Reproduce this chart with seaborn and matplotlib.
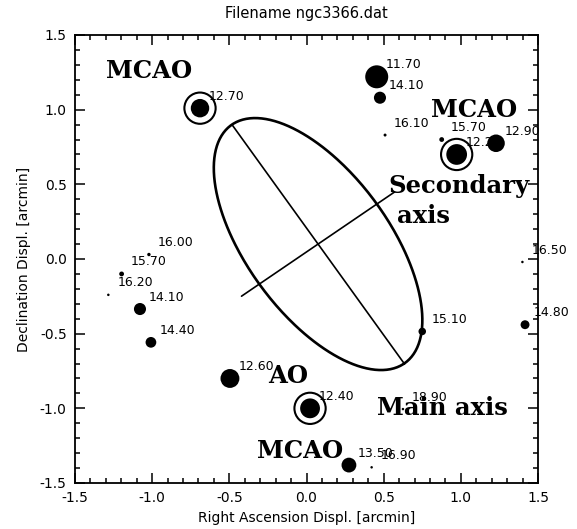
import numpy as np
import pandas as pd
import matplotlib
matplotlib.use("Agg")
import matplotlib.pyplot as plt
from matplotlib.ticker import MultipleLocator, FormatStrFormatter
import seaborn as sns

# Field stars around NGC 3366: offsets (arcmin) and magnitudes
ra_off = [-0.69, 0.455, 0.476, 0.509, 0.876, 0.973, 1.228,
          -1.021, -1.198, -1.284, -1.079, -1.008, -0.496,
          0.023, 0.275, 0.422, 0.625, 1.399, 1.416, 0.75]
dec_off = [1.01, 1.22, 1.08, 0.83, 0.80, 0.70, 0.775,
           0.03, -0.10, -0.24, -0.335, -0.558, -0.80,
           -1.0, -1.38, -1.395, -1.005, -0.02, -0.44, -0.485]
mag = [12.70, 11.70, 14.10, 16.10, 15.70, 12.20, 12.90,
       16.00, 15.70, 16.20, 14.10, 14.40, 12.60,
       12.40, 13.50, 16.90, 18.90, 16.50, 14.80, 15.10]
# guide stars circled for adaptive optics
guide = [True, False, False, False, False, True, False,
         False, False, False, False, False, False,
         True, False, False, False, False, False, False]

# galaxy ellipse: centre, semi-major and semi-minor vectors, secondary-axis half length
ell_center = (0.075, 0.10)
ell_major = (0.558, -0.80)
ell_minor = (0.381, 0.268)
sec_axis_half = (0.496, 0.349)

# annotations
notes = ["MCAO", "MCAO", "Secondary", "axis", "AO", "Main axis", "MCAO"]
notes_x = [-1.30, 0.805, 0.53, 0.585, -0.25, 0.455, -0.323]
notes_y = [1.213, 0.953, 0.442, 0.242, -0.83, -1.047, -1.335]

title = "Filename ngc3366.dat"
xlabel = "Right Ascension Displ. [arcmin]"
ylabel = "Declination Displ. [arcmin]"

sns.set_theme(style="ticks")
plt.rcParams["font.family"] = ["DejaVu Sans"]

df = pd.DataFrame({"ra": ra_off, "dec": dec_off, "mag": mag, "guide": guide})
df["label"] = [f"{m:.2f}" for m in mag]

fig = plt.figure(figsize=(5.77, 5.29), dpi=100)
ax = fig.add_axes([75 / 577, 1 - 483 / 529, 463 / 577, 448 / 529])

# marker diameter shrinks with magnitude (points, 0.72 pt per pixel)
def diam_pt(m):
    return max(23 - 4.55 * (m - 11.7), 2.5) * 0.72

size_map = {m: diam_pt(m) ** 2 for m in set(mag)}

for _, r in df.iterrows():
    ax.annotate(r["label"], (r["ra"], r["dec"]), xytext=(6.5, 8.6),
                textcoords="offset points", ha="left", va="center",
                fontsize=9, color="black", zorder=2, annotation_clip=False)

sns.scatterplot(data=df, x="ra", y="dec", size="mag", sizes=size_map,
                color="black", edgecolor="none", legend=False, ax=ax,
                zorder=4, clip_on=False)

gd = df[df["guide"]]
sns.scatterplot(data=gd, x="ra", y="dec", s=22.5 ** 2, facecolor="none",
                edgecolor="black", linewidth=1.5, legend=False, ax=ax, zorder=4)

# ellipse outline and its axes
t = np.linspace(0, 2 * np.pi, 400)
cx, cy = ell_center
ex = cx + np.cos(t) * ell_major[0] + np.sin(t) * ell_minor[0]
ey = cy + np.cos(t) * ell_major[1] + np.sin(t) * ell_minor[1]
ax.plot(ex, ey, color="black", lw=1.9, zorder=3)
ax.plot([cx - ell_major[0], cx + ell_major[0]], [cy - ell_major[1], cy + ell_major[1]],
        color="black", lw=1.2, zorder=3)
ax.plot([cx - sec_axis_half[0], cx + sec_axis_half[0]],
        [cy - sec_axis_half[1], cy + sec_axis_half[1]], color="black", lw=1.2, zorder=3)

for txt, x, y in zip(notes, notes_x, notes_y):
    ax.text(x, y, txt, family="DejaVu Serif", fontweight="bold", fontsize=17.5,
            ha="left", va="baseline", color="black", zorder=5)

ax.set_xlim(-1.5, 1.5)
ax.set_ylim(-1.5, 1.5)
ax.xaxis.set_major_locator(MultipleLocator(0.5))
ax.yaxis.set_major_locator(MultipleLocator(0.5))
ax.xaxis.set_minor_locator(MultipleLocator(0.1))
ax.yaxis.set_minor_locator(MultipleLocator(0.1))
ax.xaxis.set_major_formatter(FormatStrFormatter("%.1f"))
ax.yaxis.set_major_formatter(FormatStrFormatter("%.1f"))
ax.tick_params(which="both", direction="in", top=True, right=True, color="black",
               labelsize=10, labelcolor="black")
ax.tick_params(which="major", length=7.2, width=1.1, pad=6)
ax.tick_params(which="minor", length=3.8, width=1.1)
for s in ax.spines.values():
    s.set_linewidth(1.3)
    s.set_color("black")

ax.set_title(title, fontsize=10.5, pad=12, color="black")
ax.set_xlabel(xlabel, fontsize=10, color="black", labelpad=4)
ax.set_ylabel(ylabel, fontsize=10, color="black", labelpad=6)
ax.set_facecolor("white")
fig.patch.set_facecolor("white")

fig.savefig("out.png", dpi=100)
